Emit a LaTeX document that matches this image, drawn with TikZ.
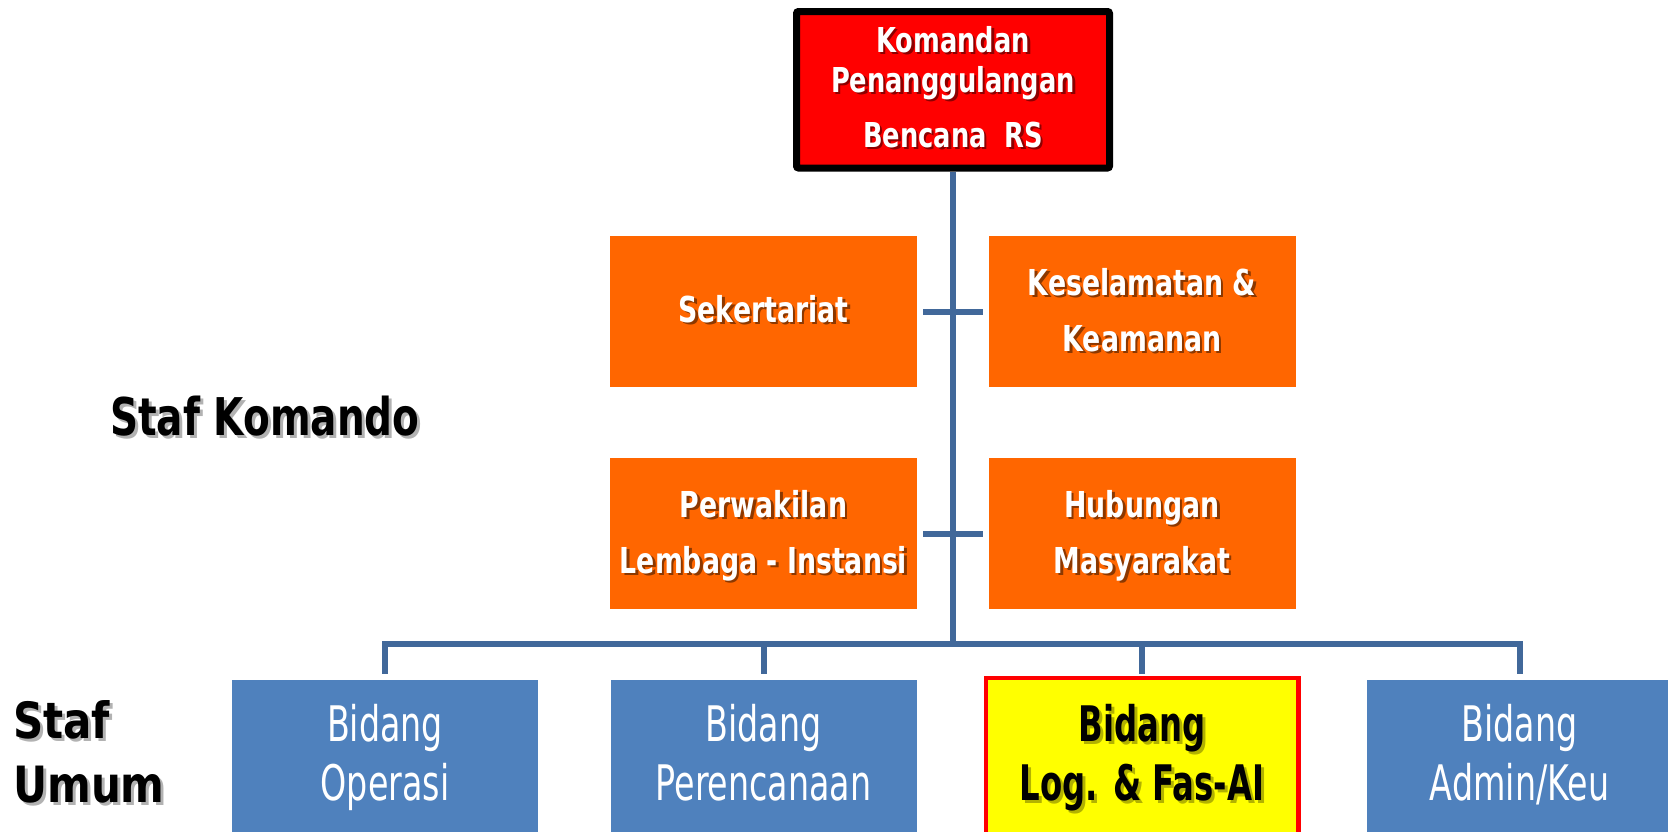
\documentclass[tikz,border=0pt]{standalone}
\usepackage{fontspec}
\newfontfamily\fb{DejaVu Sans}[FakeStretch=0.75]
\newfontfamily\fy{DejaVu Sans}[FakeStretch=0.66]
\newfontfamily\fw{DejaVu Sans}[FakeStretch=0.84]
\newfontfamily\fr{DejaVu Sans}[FakeStretch=0.68]
\usetikzlibrary{calc}
\definecolor{lnc}{RGB}{65,104,154}
\definecolor{org}{RGB}{255,102,0}
\definecolor{blu}{RGB}{79,129,189}
\definecolor{ylw}{RGB}{255,255,0}
\tikzset{
  orgbox/.style={fill=org, draw=none, minimum width=307, minimum height=151, inner sep=0},
  blubox/.style={fill=blu, draw=none, minimum width=306, minimum height=160, inner sep=0},
  conn/.style={draw=lnc, line width=6},
  tb/.style={font=\fb\bfseries\fontsize{34.3}{40}\selectfont, text=white, anchor=base, inner sep=0},
  ob/.style={font=\fb\bfseries\fontsize{35.7}{40}\selectfont, text=white, anchor=base, inner sep=0},
  br/.style={font=\fr\fontsize{49}{55}\selectfont, text=white, anchor=base, inner sep=0},
  yb/.style={font=\fy\bfseries\fontsize{49}{55}\selectfont, text=black, anchor=base, inner sep=0},
  lb/.style={font=\fb\bfseries\fontsize{52}{58}\selectfont, text=black, anchor=base west, inner sep=0},
  lb2/.style={font=\fw\bfseries\fontsize{50}{55}\selectfont, text=black, anchor=base west, inner sep=0},
  shd/.style={text=black, text opacity=0.45},
  shdl/.style={text=black, text opacity=0.3},
}
\newcommand\stx[4]{%
  \node[#2, shd] (#1s) at ($(#3)+(2.5,2.5)$) {#4};
  \node[#2] (#1) at (#3) {#4};}
\newcommand\stl[4]{%
  \node[#2, shdl] (#1s) at ($(#3)+(3,3)$) {#4};
  \node[#2] (#1) at (#3) {#4};}
\begin{document}
\begin{tikzpicture}[x=1pt, y=-1pt]
\fill[white] (0,0) rectangle (1668,831);
\useasboundingbox (0,0) rectangle (1668,831);
\clip (0,0) rectangle (1668,831);

% boxes
\node[draw=black, line width=7, fill=red, rounded corners=2, minimum width=313, minimum height=156.5, inner sep=0] (kom) at (953,89.75) {};
\node[orgbox] (sek) at (763.5,311.5) {};
\node[orgbox] (kes) at (1142,311.5) {};
\node[orgbox] (per) at (763.5,533.5) {};
\node[orgbox] (hub) at (1142,533.5) {};
\node[blubox] (b1) at (385,760) {};
\node[blubox] (b2) at (763.5,760) {};
\node[draw=red, line width=4.5, fill=ylw, minimum width=312.5, minimum height=163.75, inner sep=0] (b3) at (1142,760.1) {};
\node[blubox] (b4) at (1519.5,760) {};

% connectors
\coordinate (bus) at (953,644);
\draw[conn] (kom.south) -- (bus);
\draw[conn] ($(sek.east)+(6,0)$) -- ($(kes.west)+(-5,0)$);
\draw[conn] ($(per.east)+(6,0)$) -- ($(hub.west)+(-5,0)$);
\draw[conn] ($(b1.north)+(0,-6)$) |- ($(b4.north)+(0,-36)$) -- ($(b4.north)+(0,-6)$);
\draw[conn] ($(b2.north)+(0,-6)$) -- ($(b2.north)+(0,-39)$);
\draw[conn] ($(b3.north)+(0,-2)$) -- ($(b3.north)+(0,-35)$);

% texts
\stx{t1}{tb}{953,52}{Komandan}
\stx{t2}{tb}{953,92}{Penanggulangan}
\stx{t3}{tb}{953,147}{Bencana\ \ RS}

\stx{o1}{ob}{763.5,322}{Sekertariat}
\stx{o2}{ob}{1142,295}{Keselamatan \&}
\stx{o3}{ob}{1142,351}{Keamanan}
\stx{o4}{ob}{763.5,517}{Perwakilan}
\stx{o5}{ob}{763.5,573}{Lembaga - Instansi}
\stx{o6}{ob}{1142,517}{Hubungan}
\stx{o7}{ob}{1142,573}{Masyarakat}

\node[br] (u1) at (385,741) {Bidang};
\node[br] (u2) at (385,800) {Operasi};
\node[br] (u3) at (763.5,741) {Bidang};
\node[br] (u4) at (763.5,800) {Perencanaan};
\stl{u5}{yb}{1142,741}{Bidang}
\stl{u6}{yb}{1142,800}{Log. \& Fas-AI}
\node[br] (u7) at (1519.5,741) {Bidang};
\node[br] (u8) at (1519.5,800) {Admin/Keu};

\stl{s1}{lb}{110,435}{Staf Komando}
\stl{s2}{lb2}{13,738}{Staf}
\stl{s3}{lb2}{13,802}{Umum}
\end{tikzpicture}
\end{document}
